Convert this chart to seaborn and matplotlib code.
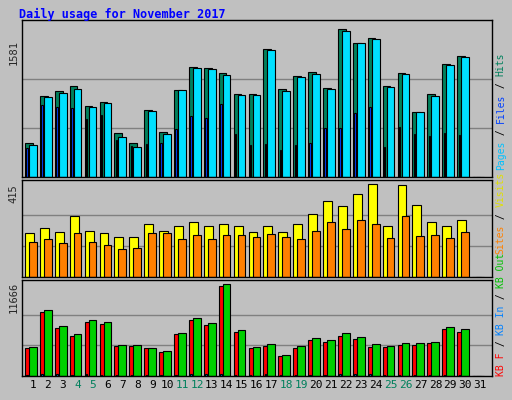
import matplotlib
matplotlib.use("Agg")
import matplotlib.pyplot as plt
import seaborn as sns
import numpy as np

days = list(range(1, 32))
hits = [368,862,919,973,755,801,476,368,715,486,930,1173,1162,1112,887,887,1370,941,1077,1123,951,1581,1431,1484,973,1112,694,887,1209,1295,0]
files = [347,851,898,941,744,790,433,325,705,465,930,1162,1152,1087,876,876,1356,919,1066,1102,941,1560,1431,1474,962,1102,694,866,1198,1284,0]
pages = [308,769,748,737,619,662,393,329,350,361,511,651,630,780,458,340,350,286,340,361,522,522,683,748,318,533,458,436,469,447,0]
visits = [199,221,203,275,208,199,180,180,235,208,230,248,230,239,230,203,230,203,239,280,338,316,370,415,230,411,320,248,226,253,0]
sites = [158,171,153,199,158,144,126,131,199,199,171,190,171,190,190,180,194,180,171,208,244,217,257,239,176,271,185,190,176,203,0]
kb_f = [3590,8204,6153,5128,6922,6666,3846,3846,3590,3077,5384,7179,6538,11409,5640,3590,3846,2564,3590,4615,4358,5128,4743,3718,3718,3974,3974,4230,6025,5640,0]
kb_out = [3718,8461,6410,5384,7179,6922,3974,3974,3590,3205,5512,7435,6794,11666,5897,3718,4102,2692,3846,4871,4615,5512,5000,4102,3846,4230,4230,4358,6281,6025,0]
kb_in = [150,250,200,180,200,180,150,120,100,150,180,250,280,300,180,120,250,150,150,120,120,250,280,250,150,150,180,120,120,120,0]
weekends = {4,5,11,12,18,19,25,26}

sns.set_theme(style="white")
plt.rcParams['font.family'] = ['DejaVu Sans Mono']
BG = '#C0C0C0'
fig = plt.figure(figsize=(5.12, 4.0), dpi=100, facecolor=BG)
x = np.array(days, dtype=float)

def panel(rect, ylim, maxv, series):
    ax = fig.add_axes(rect)
    ax.set_facecolor(BG)
    for v in (maxv/3, 2*maxv/3):
        ax.axhline(v, color='#808080', lw=1, zorder=0)
    for vals, off, w, col in series:
        ax.bar(x + off, vals, width=w, align='edge', color=col, edgecolor='black', linewidth=0.8, zorder=2)
    ax.set_xlim(0.26, 31.8)
    ax.set_ylim(0, ylim)
    ax.set_xticks([]); ax.set_yticks([])
    for s in ax.spines.values():
        s.set_color('black'); s.set_linewidth(1)
    return ax

a1 = panel([0.043, 0.5575, 0.918, 0.3925], 1680, 1581,
           [(hits, -0.54, 0.52, '#00805C'), (files, -0.27, 0.52, '#00E0FF'), (pages, -0.45, 0.1, '#0040FF')])
a2 = panel([0.043, 0.3075, 0.918, 0.2425], 434, 415,
           [(visits, -0.54, 0.6, '#FFFF00'), (sites, -0.27, 0.52, '#FF8000')])
a3 = panel([0.043, 0.06, 0.918, 0.24], 12217, 11666,
           [(kb_f, -0.54, 0.6, '#FF0000'), (kb_out, -0.27, 0.52, '#00D000'), (kb_in, -0.45, 0.1, '#0080FF')])

for d in days:
    a3.text(d, -0.04, str(d), transform=a3.get_xaxis_transform(), ha='center', va='top',
            fontsize=8, color='#00805C' if d in weekends else 'black')

fig.text(0.037, 0.965, 'Daily usage for November 2017', color='#0000FF', fontsize=8.5,
         fontweight='bold', ha='left', va='center')
for ax, lab, ytop in ((a1, '1581', 0.9), (a2, '415', 0.54), (a3, '11666', 0.295)):
    fig.text(0.027, ytop, lab, rotation=90, fontsize=7.5, ha='center', va='top')

STEP = 0.0147
def vlabel(parts, ybottom):
    y = ybottom
    for txt, col in parts:
        fig.text(0.978, y, txt.replace(' ', '\u00a0'), rotation=90, fontsize=7, color=col,
                 ha='center', va='bottom')
        y += len(txt) * STEP
vlabel([('Pages', '#00C0FF'), (' / ', '#000000'), ('Files', '#0040FF'), (' / ', '#000000'), ('Hits', '#00805C')], 0.575)
vlabel([('Sites', '#FF8000'), (' / ', '#000000'), ('Visits', '#E0E000')], 0.365)
vlabel([('KB F', '#FF0000'), (' / ', '#000000'), ('KB In', '#0080FF'), (' / ', '#000000'), ('KB Out', '#00C000')], 0.06)

fig.savefig('out.png', dpi=100, facecolor=BG)
